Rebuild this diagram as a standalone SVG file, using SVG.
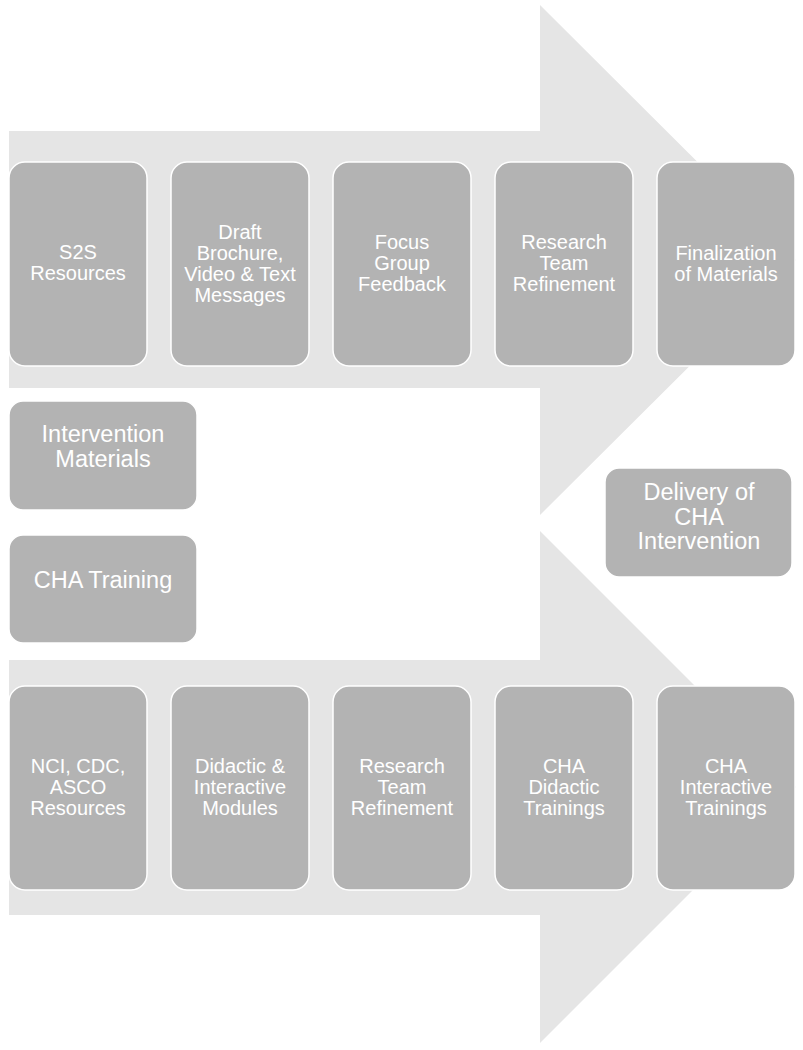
<svg xmlns="http://www.w3.org/2000/svg" width="803" height="1050" viewBox="0 0 803 1050">
<style>
.arrow{fill:#e5e5e5}
.box{fill:#b3b3b3;stroke:#ffffff;stroke-width:1.5}
.t{fill:#ffffff;font-family:"Liberation Sans",Arial,sans-serif;font-size:20px;text-anchor:middle}
.tl{fill:#ffffff;font-family:"Liberation Sans",Arial,sans-serif;font-size:23.5px;text-anchor:middle}
</style>
<rect width="803" height="1050" fill="#ffffff"/>
<g id="connectors">
<polygon class="arrow" points="9,131 540,131 540,5 796,260 540,515 540,388 9,388"/>
<polygon class="arrow" points="9,660 540,660 540,531 796,787 540,1043 540,915 9,915"/>
</g>
<g id="n1"><rect class="box" x="9" y="162" width="138" height="204" rx="16"/><text class="t"><tspan x="78" y="259">S2S</tspan><tspan x="78" y="280">Resources</tspan></text></g>
<g id="n2"><rect class="box" x="171" y="162" width="138" height="204" rx="16"/><text class="t"><tspan x="240" y="239">Draft</tspan><tspan x="240" y="260">Brochure,</tspan><tspan x="240" y="281">Video &amp; Text</tspan><tspan x="240" y="302">Messages</tspan></text></g>
<g id="n3"><rect class="box" x="333" y="162" width="138" height="204" rx="16"/><text class="t"><tspan x="402" y="249">Focus</tspan><tspan x="402" y="270">Group</tspan><tspan x="402" y="291">Feedback</tspan></text></g>
<g id="n4"><rect class="box" x="495" y="162" width="138" height="204" rx="16"/><text class="t"><tspan x="564" y="249">Research</tspan><tspan x="564" y="270">Team</tspan><tspan x="564" y="291">Refinement</tspan></text></g>
<g id="n5"><rect class="box" x="657" y="162" width="138" height="204" rx="16"/><text class="t"><tspan x="726" y="260">Finalization</tspan><tspan x="726" y="281">of Materials</tspan></text></g>
<g id="n6"><rect class="box" x="9" y="401" width="188" height="109" rx="14"/><text class="tl"><tspan x="103" y="442">Intervention</tspan><tspan x="103" y="467">Materials</tspan></text></g>
<g id="n7"><rect class="box" x="9" y="535" width="188" height="108" rx="14"/><text class="tl"><tspan x="103" y="588">CHA Training</tspan></text></g>
<g id="n8"><rect class="box" x="605" y="468" width="187" height="109" rx="14"/><text class="tl"><tspan x="699" y="500">Delivery of</tspan><tspan x="699" y="525">CHA</tspan><tspan x="699" y="549">Intervention</tspan></text></g>
<g id="n9"><rect class="box" x="9" y="686" width="138" height="204" rx="16"/><text class="t"><tspan x="78" y="773">NCI, CDC,</tspan><tspan x="78" y="794">ASCO</tspan><tspan x="78" y="815">Resources</tspan></text></g>
<g id="n10"><rect class="box" x="171" y="686" width="138" height="204" rx="16"/><text class="t"><tspan x="240" y="773">Didactic &amp;</tspan><tspan x="240" y="794">Interactive</tspan><tspan x="240" y="815">Modules</tspan></text></g>
<g id="n11"><rect class="box" x="333" y="686" width="138" height="204" rx="16"/><text class="t"><tspan x="402" y="773">Research</tspan><tspan x="402" y="794">Team</tspan><tspan x="402" y="815">Refinement</tspan></text></g>
<g id="n12"><rect class="box" x="495" y="686" width="138" height="204" rx="16"/><text class="t"><tspan x="564" y="773">CHA</tspan><tspan x="564" y="794">Didactic</tspan><tspan x="564" y="815">Trainings</tspan></text></g>
<g id="n13"><rect class="box" x="657" y="686" width="138" height="204" rx="16"/><text class="t"><tspan x="726" y="773">CHA</tspan><tspan x="726" y="794">Interactive</tspan><tspan x="726" y="815">Trainings</tspan></text></g>
</svg>
